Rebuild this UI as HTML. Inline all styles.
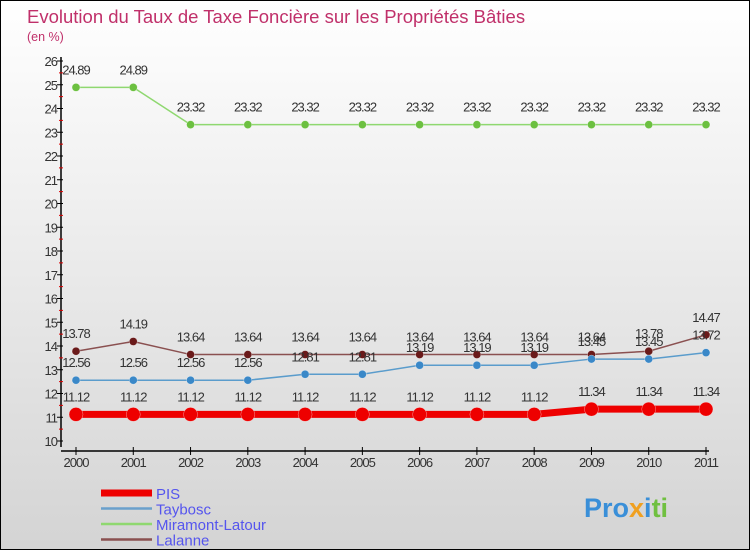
<!DOCTYPE html>
<html><head><meta charset="utf-8"><style>
body{margin:0}
#c{width:748px;height:548px;border:1px solid #000;background:linear-gradient(#fff,#d4d4d4);position:relative;font-family:"Liberation Sans",sans-serif}
</style></head><body>
<div id="c">
<svg id="s" width="748" height="548" xmlns="http://www.w3.org/2000/svg" font-family="Liberation Sans, sans-serif">
<text x="26" y="22" font-size="18.5" fill="#c0306a">Evolution du Taux de Taxe Foncière sur les Propriétés Bâties</text>
<text x="26" y="40" font-size="12.5" fill="#c0306a">(en %)</text>
<g id="axes"></g><g id="series"></g><g id="legend"></g>
<text x="583" y="516" font-size="27" font-weight="bold"><tspan fill="#3a8fd8">Pro</tspan><tspan fill="#f0a020">x</tspan><tspan fill="#3a8fd8">i</tspan><tspan fill="#70c040">ti</tspan></text>
</svg></div>
<script>
const years=["2000","2001","2002","2003","2004","2005","2006","2007","2008","2009","2010","2011"];
const yTicks=[10,11,12,13,14,15,16,17,18,19,20,21,22,23,24,25,26];
const pis=[11.12,11.12,11.12,11.12,11.12,11.12,11.12,11.12,11.12,11.34,11.34,11.34];
const taybosc=[12.56,12.56,12.56,12.56,12.81,12.81,13.19,13.19,13.19,13.45,13.45,13.72];
const miramont=[24.89,24.89,23.32,23.32,23.32,23.32,23.32,23.32,23.32,23.32,23.32,23.32];
const lalanne=[13.78,14.19,13.64,13.64,13.64,13.64,13.64,13.64,13.64,13.64,13.78,14.47];
const NS="http://www.w3.org/2000/svg";
const X=i=>75+i*(630/(years.length-1));
const Y=v=>440-(v-10)*23.75;
function mk(p,t,a){const e=document.createElementNS(NS,t);for(const k in a)e.setAttribute(k,a[k]);p.appendChild(e);return e;}
const ax=document.getElementById('axes');
let l=mk(ax,'line',{x1:60,y1:56,x2:60,y2:446,stroke:'#000','stroke-width':1.5});


l=mk(ax,'line',{x1:60,y1:450,x2:708,y2:450,stroke:'#000','stroke-width':1.5});


yTicks.forEach(v=>{
 mk(ax,'line',{x1:56,y1:Y(v),x2:62,y2:Y(v),stroke:'#000'});
 if(v<26)mk(ax,'line',{x1:58,y1:Y(v+0.5),x2:62,y2:Y(v+0.5),stroke:'#d00'});
 const t=mk(ax,'text',{x:56,y:Y(v)+5,'font-size':13,'text-anchor':'end',fill:'#333','letter-spacing':'-1'});
 t.textContent=v;
 
 
});
years.forEach((y,i)=>{
 mk(ax,'line',{x1:X(i),y1:446,x2:X(i),y2:454,stroke:'#000'});
 const t=mk(ax,'text',{x:X(i),y:466,'font-size':13,'text-anchor':'middle',fill:'#333','letter-spacing':'-1'});
 t.textContent=y;
 
 
});
const sg=document.getElementById('series');
function draw(vals,color,dot,w,r,name){
 const g=mk(sg,'g',{});
 
 
 mk(g,'polyline',{points:vals.map((v,i)=>X(i)+','+Y(v)).join(' '),fill:'none',stroke:color,'stroke-width':w});
 vals.forEach((v,i)=>{
  const c=mk(g,'circle',{cx:X(i),cy:Y(v),r:r,fill:dot,stroke:'#fff','stroke-width':0.3});
  
  
  const t=mk(g,'text',{x:X(i),y:Y(v)-13,'font-size':13,'text-anchor':'middle',fill:'#333','letter-spacing':'-1'});
  t.textContent=v.toFixed(2);
  
  
 });
}
draw(miramont,'#8fd870','#6cc040',1.5,4,'miramont-latour');
draw(lalanne,'#8a5050','#6a1a1a',1.5,4,'lalanne');
draw(taybosc,'#5a9ccc','#3a88c8',1.5,4,'taybosc');
draw(pis,'#ee0000','#ee0000',7,7,'pis');
const lg=document.getElementById('legend');
const names=["PIS","Taybosc","Miramont-Latour","Lalanne"];
const cols=['#ee0000','#6aa0cc','#8fd870','#8a5050'];
const ws=[7,2.5,2.5,2.5];
names.forEach((n,i)=>{
 const y=492+i*15.5;
 const g=mk(lg,'g',{});
 
 
 mk(g,'line',{x1:100,y1:y,x2:151,y2:y,stroke:cols[i],'stroke-width':ws[i]});
 const t=mk(g,'text',{x:155,y:y+6,'font-size':15,fill:'#5555ee'});
 t.textContent=n;
});
</script>
</body></html>
